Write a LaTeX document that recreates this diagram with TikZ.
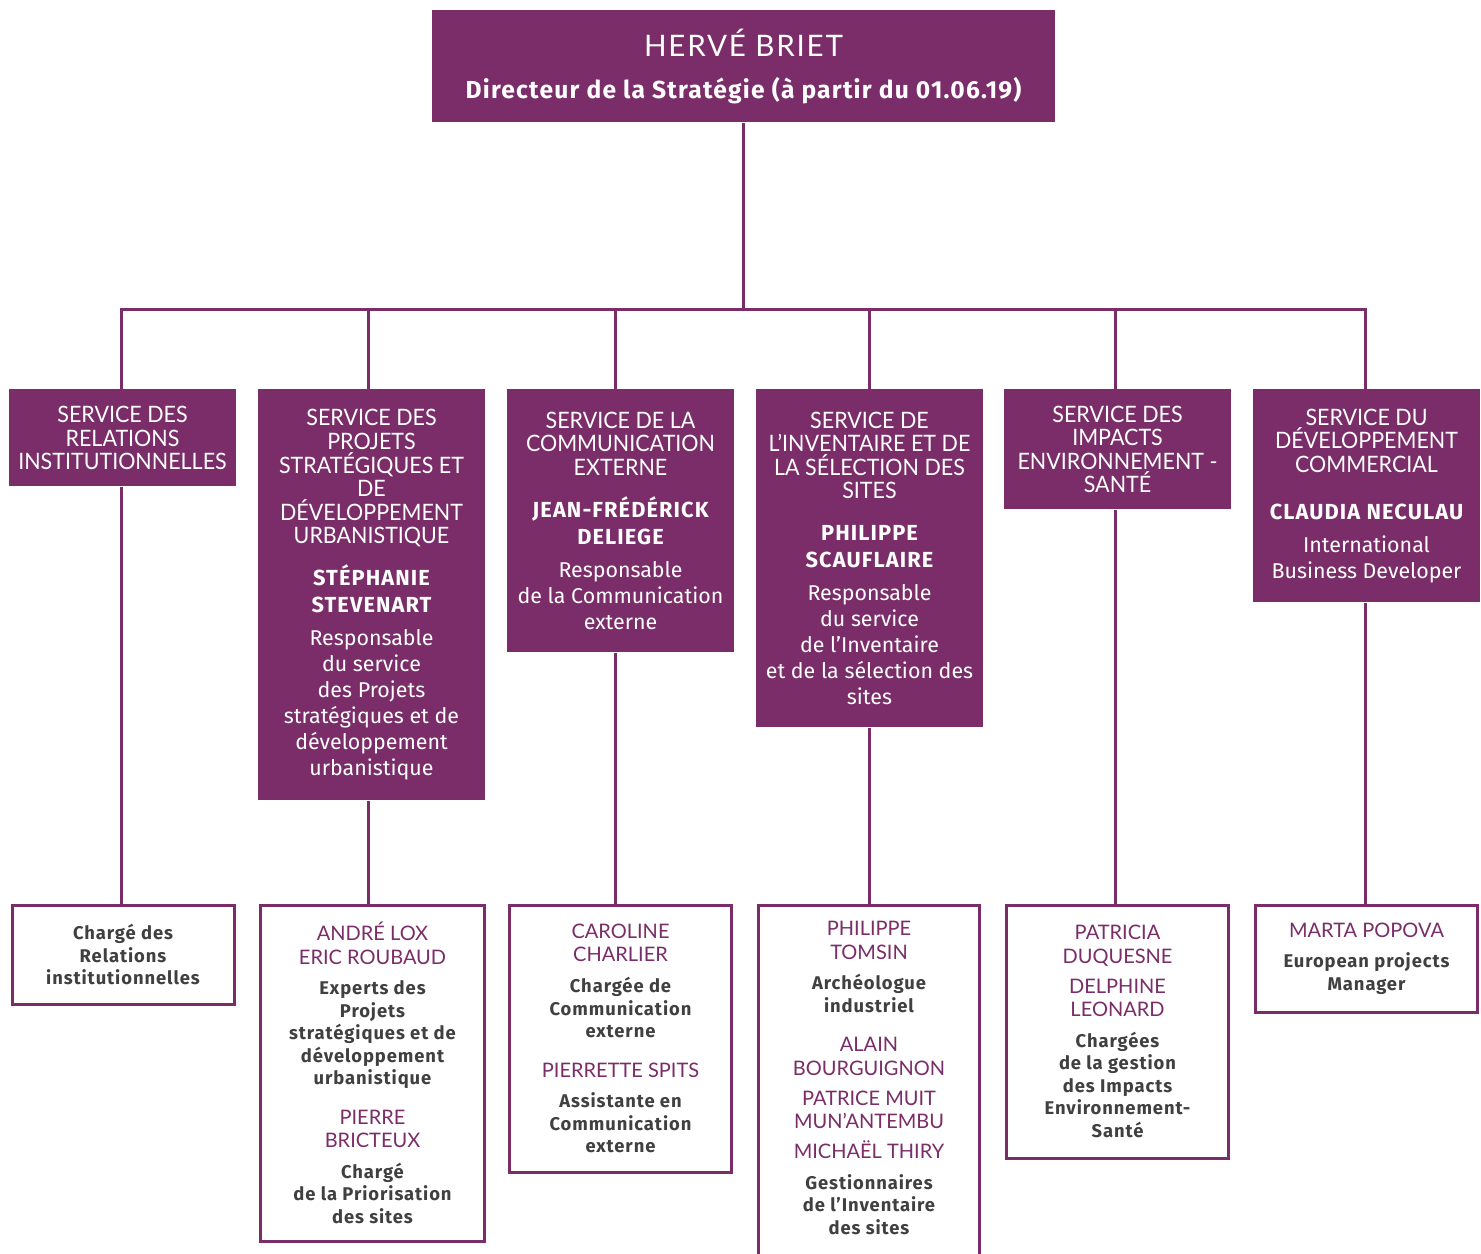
\documentclass[tikz,border=0pt]{standalone}
\usepackage{fontspec}
\setmainfont{Fira Sans}
\newfontfamily\hdfont{Lato}[FakeStretch=0.95]
\newfontfamily\nmfont{Lato}
\newfontfamily\ttlfont{Lato}[LetterSpace=6]
\newfontfamily\txfont{Fira Sans}
\newfontfamily\bxfont{Fira Sans}[LetterSpace=5]
\definecolor{plum}{RGB}{122,45,104}
\definecolor{ink}{RGB}{64,64,64}

% text groups: service titles, heads, job descriptions, staff names, staff roles
\newcommand\HdL[1]{{\hdfont\fontsize{11.3}{11.8}\selectfont #1\par}}
\newcommand\NmL[1]{{\bxfont\bfseries\fontsize{10.9}{13.5}\selectfont #1\par}}
\newcommand\BdL[1]{{\txfont\fontsize{10.7}{13}\selectfont #1\par}}
\newcommand\PnL[1]{{\nmfont\color{plum}\fontsize{10}{11.65}\selectfont #1\par}}
\newcommand\GrL[1]{{\bxfont\bfseries\color{ink}\fontsize{9.2}{11.25}\selectfont #1\par}}
\newcommand\gap[1]{\vspace{#1pt}}
\newcommand\boxtext[2][112pt]{\begin{minipage}{#1}\centering #2\end{minipage}}

\tikzset{
  head/.style={fill=plum, text=white, inner sep=0pt, minimum width=311.5pt, minimum height=56pt, anchor=north},
  svc/.style={fill=plum, text=white, inner sep=0pt, minimum width=113.5pt, anchor=north},
  staff/.style={draw=plum, line width=1.5pt, fill=white, inner sep=0pt, minimum width=111pt, anchor=north},
  link/.style={draw=plum, line width=1.5pt}
}

\begin{document}
\begin{tikzpicture}[x=0.5pt, y=-0.5pt]
\useasboundingbox (0,0) rectangle (1481,1253);
\clip (0,0) rectangle (1481,1253);

% director
\node[head] (top) at (743.5,10) {\boxtext[300pt]{%
  {\ttlfont\fontsize{14.8}{17}\selectfont HERVÉ BRIET\par}%
  {\bxfont\bfseries\fontsize{12.3}{21}\selectfont Directeur de la Stratégie (à partir du 01.06.19)\par}}};

% services
\node[svc, minimum height=48.5pt] (b1) at (122.5,389) {\boxtext{%
  \HdL{SERVICE DES\\RELATIONS\\INSTITUTIONNELLES}}};
\node[svc, minimum height=205.5pt] (b2) at (371.5,389) {\boxtext{%
  \HdL{SERVICE DES\\PROJETS\\STRATÉGIQUES ET\\DE\\DÉVELOPPEMENT\\URBANISTIQUE}\gap{7.3}%
  \NmL{STÉPHANIE\\STEVENART}\gap{3.7}%
  \BdL{Responsable\\du service\\des Projets\\stratégiques et de\\développement\\urbanistique}}};
\node[svc, minimum height=131.5pt] (b3) at (620.5,389) {\boxtext{%
  \HdL{SERVICE DE LA\\COMMUNICATION\\EXTERNE}\gap{7.3}%
  \NmL{JEAN-FRÉDÉRICK\\DELIEGE}\gap{3.7}%
  \BdL{Responsable\\de la Communication\\externe}}};
\node[svc, minimum height=169pt] (b4) at (869.5,389) {\boxtext{%
  \HdL{SERVICE DE\\L’INVENTAIRE ET DE\\LA SÉLECTION DES\\SITES}\gap{7.3}%
  \NmL{PHILIPPE\\SCAUFLAIRE}\gap{3.7}%
  \BdL{Responsable\\du service\\de l’Inventaire\\et de la sélection des\\sites}}};
\node[svc, minimum height=60pt] (b5) at (1117.5,389) {\boxtext{%
  \HdL{SERVICE DES\\IMPACTS\\ENVIRONNEMENT -\\SANTÉ}}};
\node[svc, minimum height=106.5pt] (b6) at (1366.5,389) {\boxtext{%
  \HdL{SERVICE DU\\DÉVELOPPEMENT\\COMMERCIAL}\gap{9.8}%
  \NmL{CLAUDIA NECULAU}\gap{3.7}%
  \BdL{International\\Business Developer}}};

% staff
\node[staff, minimum height=49.5pt] (c1) at (123,903.5) {\boxtext[108pt]{%
  \GrL{Chargé des\\Relations\\institutionnelles}}};
\node[staff, minimum width=112pt, minimum height=168pt] (c2) at (372.5,903.5) {\boxtext[108pt]{%
  \PnL{ANDRÉ LOX\\ERIC ROUBAUD}\gap{4.1}%
  \GrL{Experts des\\Projets\\stratégiques et de\\développement\\urbanistique}\gap{8.1}%
  \PnL{PIERRE\\BRICTEUX}\gap{4.1}%
  \GrL{Chargé\\de la Priorisation\\des sites}}};
\node[staff, minimum height=133.5pt] (c3) at (620.5,903.5) {\boxtext[108pt]{%
  \PnL{CAROLINE\\CHARLIER}\gap{4.1}%
  \GrL{Chargée de\\Communication\\externe}\gap{8.1}%
  \PnL{PIERRETTE SPITS}\gap{4.1}%
  \GrL{Assistante en\\Communication\\externe}}};
\node[staff, minimum width=110.5pt, minimum height=185pt] (c4) at (869,903.5) {\boxtext[108pt]{%
  \PnL{PHILIPPE\\TOMSIN}\gap{4.1}%
  \GrL{Archéologue\\industriel}\gap{8.1}%
  \PnL{ALAIN\\BOURGUIGNON}\gap{3.35}%
  \PnL{PATRICE MUIT\\MUN’ANTEMBU}\gap{3.35}%
  \PnL{MICHAËL THIRY}\gap{4.1}%
  \GrL{Gestionnaires\\de l’Inventaire\\des sites}\vspace*{12pt}}};
\node[staff, minimum height=126.5pt] (c5) at (1117.5,903.5) {\boxtext[108pt]{%
  \PnL{PATRICIA\\DUQUESNE}\gap{3.35}%
  \PnL{DELPHINE\\LEONARD}\gap{4.1}%
  \GrL{Chargées\\de la gestion\\des Impacts\\Environnement-\\Santé}}};
\node[staff, minimum height=53.5pt] (c6) at (1366.5,903.5) {\boxtext[108pt]{%
  \PnL{MARTA POPOVA}\gap{4.1}%
  \GrL{European projects\\Manager}}};

% connectors
\coordinate (bus) at (744,309);
\draw[link] (top.south) -- (top.south |- bus);
\draw[link] ([xshift=-0.75pt]b1.north) -- ([xshift=-0.75pt]b1.north |- bus)
  -- ([xshift=-0.75pt]b6.north |- bus) -- ([xshift=-0.75pt]b6.north);
\foreach \n/\d in {b2/-1.75pt,b3/-2.75pt,b4/0pt,b5/-1.25pt}
  \draw[link] ([xshift=\d]\n.north) -- ([xshift=\d]\n.north |- bus);
\foreach \a/\b/\d in {b1/c1/-0.75pt,b2/c2/-1.75pt,b3/c3/-2.75pt,b4/c4/0pt,b5/c5/-1.25pt,b6/c6/-0.75pt}
  \draw[link] ([xshift=\d]\a.south) -- ([xshift=\d]\a.south |- \b.north);
\end{tikzpicture}
\end{document}
